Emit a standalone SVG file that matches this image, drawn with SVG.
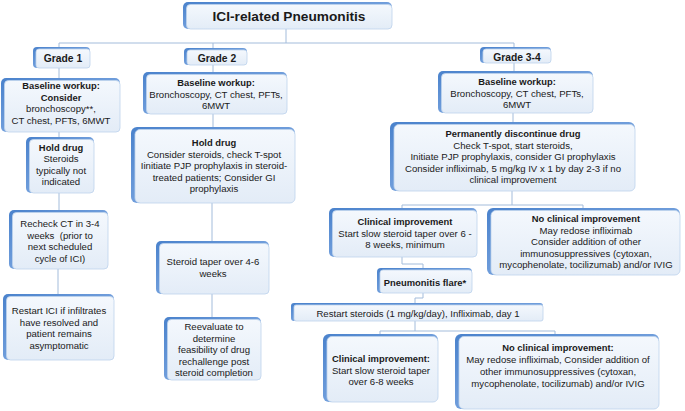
<svg xmlns="http://www.w3.org/2000/svg" width="685" height="411" viewBox="0 0 685 411">
<defs>
<linearGradient id="edgeG" x1="0" y1="0" x2="1" y2="1">
<stop offset="0" stop-color="#4a82cc"/>
<stop offset="0.5" stop-color="#6f9ddb"/>
<stop offset="1" stop-color="#c3d7f0"/>
</linearGradient>
<linearGradient id="faceG" x1="0" y1="0" x2="0" y2="1">
<stop offset="0" stop-color="#f4f8fd"/>
<stop offset="1" stop-color="#e3ecf7"/>
</linearGradient>
<style>
.edge{fill:url(#edgeG);}
.face{fill:url(#faceG);stroke:#bed3ec;stroke-width:0.8;}
text{font-family:"Liberation Sans",Arial,sans-serif;fill:#1a1a1a;text-anchor:middle;font-size:9.6px;}
.b{font-weight:bold;font-size:9.4px;}
.g{font-weight:bold;font-size:10.3px;}
.title{font-weight:bold;font-size:13.7px;}
#connectors path{fill:none;stroke:#a3bcdb;stroke-width:1;}
</style>
</defs>
<rect width="685" height="411" fill="#ffffff"/>

<g id="connectors">
<path d="M286,29V43M59,43H514M59,43V47M213,43V48M514,43V47"/>
<path d="M59,68V78M59,132V137M59,193V210M58,269V294"/>
<path d="M213,65V72M213,114V127M212,203V241M212,294V317"/>
<path d="M514,63V71M513,113V122M512,191V205M402,205H583M402,205V208M583,205V208"/>
<path d="M402,257V264H423V268"/>
<path d="M423,293V298H415V303"/>
<path d="M415,321V331M380,331H555M380,331V334M555,331V334"/>
</g>

<g id="title">
<rect class="edge" x="183" y="2" width="209" height="27" rx="5"/>
<rect class="face" x="186.5" y="4.5" width="205.5" height="24.5" rx="4"/>
<text class="title" x="289" y="20.5">ICI-related Pneumonitis</text>
</g>

<g id="grade1">
<rect class="edge" x="33" y="47" width="57" height="21" rx="4"/>
<rect class="face" x="36" y="49" width="54" height="19" rx="3"/>
<text class="g" x="63" y="62">Grade 1</text>
</g>
<g id="grade2">
<rect class="edge" x="184" y="48" width="63" height="17" rx="4"/>
<rect class="face" x="187" y="50" width="60" height="15" rx="3"/>
<text class="g" x="217" y="61.5">Grade 2</text>
</g>
<g id="grade34">
<rect class="edge" x="480" y="47" width="71" height="16" rx="4"/>
<rect class="face" x="483" y="49" width="68" height="14" rx="3"/>
<text class="g" x="517" y="60.5">Grade 3-4</text>
</g>

<g id="g1-baseline">
<rect class="edge" x="1" y="78" width="119" height="54" rx="5"/>
<rect class="face" x="4.5" y="80.5" width="115.5" height="51.5" rx="4"/>
<text class="b" x="61" y="89">Baseline workup:</text>
<text class="b" x="61" y="100.5">Consider</text>
<text x="61" y="112">bronchoscopy**,</text>
<text x="61" y="123.5">CT chest, PFTs, 6MWT</text>
</g>
<g id="g1-hold">
<rect class="edge" x="26" y="137" width="68" height="56" rx="5"/>
<rect class="face" x="29.5" y="139.5" width="64.5" height="53.5" rx="4"/>
<text class="b" x="61" y="150.5">Hold drug</text>
<text x="61" y="162">Steroids</text>
<text x="61" y="173.5">typically not</text>
<text x="61" y="185">indicated</text>
</g>
<g id="g1-recheck">
<rect class="edge" x="9" y="210" width="99" height="59" rx="5"/>
<rect class="face" x="12.5" y="212.5" width="95.5" height="56.5" rx="4"/>
<text x="60" y="227">Recheck CT in 3-4</text>
<text x="60" y="238.5">weeks &#160;(prior to</text>
<text x="60" y="250">next scheduled</text>
<text x="60" y="261.5">cycle of ICI)</text>
</g>
<g id="g1-restart">
<rect class="edge" x="3" y="294" width="111" height="66" rx="5"/>
<rect class="face" x="6.5" y="296.5" width="107.5" height="63.5" rx="4"/>
<text x="59" y="314">Restart ICI if infiltrates</text>
<text x="59" y="325.5">have resolved and</text>
<text x="59" y="337">patient remains</text>
<text x="59" y="348.5">asymptomatic</text>
</g>

<g id="g2-baseline">
<rect class="edge" x="143" y="72" width="144" height="42" rx="5"/>
<rect class="face" x="146.5" y="74.5" width="140.5" height="39.5" rx="4"/>
<text class="b" x="216" y="86">Baseline workup:</text>
<text x="216" y="97.5">Bronchoscopy, CT chest, PFTs,</text>
<text x="216" y="109">6MWT</text>
</g>
<g id="g2-hold">
<rect class="edge" x="131" y="127" width="164" height="76" rx="6"/>
<rect class="face" x="135" y="129.5" width="160" height="73.5" rx="5"/>
<text class="b" x="214" y="146">Hold drug</text>
<text x="214" y="157.5">Consider steroids, check T-spot</text>
<text x="214" y="169">Iinitiate PJP prophylaxis in steroid-</text>
<text x="214" y="180.5">treated patients; Consider GI</text>
<text x="214" y="192">prophylaxis</text>
</g>
<g id="g2-taper">
<rect class="edge" x="156" y="241" width="113" height="53" rx="5"/>
<rect class="face" x="159.5" y="243.5" width="109.5" height="50.5" rx="4"/>
<text x="213" y="265">Steroid taper over 4-6</text>
<text x="213" y="276.5">weeks</text>
</g>
<g id="g2-reevaluate">
<rect class="edge" x="164" y="317" width="97" height="63" rx="5"/>
<rect class="face" x="167.5" y="319.5" width="93.5" height="60.5" rx="4"/>
<text x="214" y="330">Reevaluate to</text>
<text x="214" y="341.5">determine</text>
<text x="214" y="353">feasibility of drug</text>
<text x="214" y="364.5">rechallenge post</text>
<text x="214" y="376">steroid completion</text>
</g>

<g id="g34-baseline">
<rect class="edge" x="438" y="71" width="155" height="42" rx="5"/>
<rect class="face" x="441.5" y="73.5" width="151.5" height="39.5" rx="4"/>
<text class="b" x="517" y="85">Baseline workup:</text>
<text x="517" y="96.5">Bronchoscopy, CT chest, PFTs,</text>
<text x="517" y="108">6MWT</text>
</g>
<g id="g34-discontinue">
<rect class="edge" x="390" y="122" width="245" height="69" rx="6"/>
<rect class="face" x="394" y="124.5" width="241" height="66.5" rx="5"/>
<text class="b" x="513" y="137">Permanently discontinue drug</text>
<text x="513" y="148.5">Check T-spot, start steroids,</text>
<text x="513" y="160">Initiate PJP prophylaxis, consider GI prophylaxis</text>
<text x="513" y="171.5">Consider infliximab, 5 mg/kg IV x 1 by day 2-3 if no</text>
<text x="513" y="183">clinical improvement</text>
</g>
<g id="g34-clinical1">
<rect class="edge" x="329" y="208" width="148" height="49" rx="5"/>
<rect class="face" x="332.5" y="210.5" width="144.5" height="46.5" rx="4"/>
<text class="b" x="405" y="225">Clinical improvement</text>
<text x="405" y="236.5">Start slow steroid taper over 6 -</text>
<text x="405" y="248">8 weeks, minimum</text>
</g>
<g id="g34-noclinical1">
<rect class="edge" x="487" y="208" width="193" height="67" rx="6"/>
<rect class="face" x="491" y="210.5" width="189" height="64.5" rx="5"/>
<text class="b" x="586" y="222">No clinical improvement</text>
<text x="586" y="233.5">May redose infliximab</text>
<text x="586" y="245">Consider addition of other</text>
<text x="586" y="256.5">immunosuppressives (cytoxan,</text>
<text x="586" y="268">mycophenolate, tocilizumab) and/or IVIG</text>
</g>
<g id="g34-flare">
<rect class="edge" x="377" y="268" width="95" height="25" rx="4"/>
<rect class="face" x="380" y="270" width="92" height="23" rx="3"/>
<text class="b" x="425" y="286">Pneumonitis flare*</text>
</g>
<g id="g34-restart">
<rect class="edge" x="291" y="303" width="252" height="18" rx="3"/>
<rect class="face" x="294" y="305" width="249" height="16" rx="2"/>
<text x="418" y="316.5">Restart steroids (1 mg/kg/day), Infliximab, day 1</text>
</g>
<g id="g34-clinical2">
<rect class="edge" x="323" y="334" width="115" height="68" rx="6"/>
<rect class="face" x="327" y="336.5" width="111" height="65.5" rx="5"/>
<text class="b" x="381" y="362">Clinical improvement:</text>
<text x="381" y="373.5">Start slow steroid taper</text>
<text x="381" y="385">over 6-8 weeks</text>
</g>
<g id="g34-noclinical2">
<rect class="edge" x="455" y="334" width="204" height="75" rx="6"/>
<rect class="face" x="459" y="336.5" width="200" height="72.5" rx="5"/>
<text class="b" x="558" y="351">No clinical improvement:</text>
<text x="558" y="363">May redose infliximab, Consider addition of</text>
<text x="558" y="375">other immunosuppressives (cytoxan,</text>
<text x="558" y="387">mycophenolate, tocilizumab) and/or IVIG</text>
</g>
</svg>
